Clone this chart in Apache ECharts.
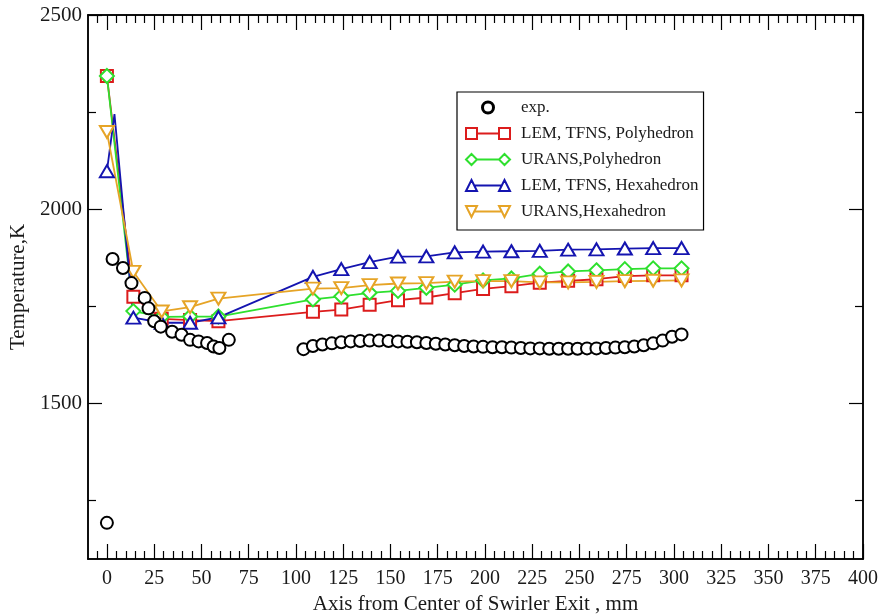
<!DOCTYPE html>
<html>
<head>
<meta charset="utf-8">
<script src="https://cdn.jsdelivr.net/npm/echarts@6/dist/echarts.min.js"></script>
<style>html,body{margin:0;padding:0;background:#fff;}#c{width:883px;height:614px;}</style>
</head>
<body>
<div id="c"></div>
<script>
// ---- tick labels ----
const xTicks = [0,25,50,75,100,125,150,175,200,225,250,275,300,325,350,375,400];
const yTicks = [1500,2000,2500];
const yMinorTicks = [1250,1750,2250];
const xMinorTicks = [];
for (let v = -5; v <= 400; v += 5) { if (v % 25 !== 0) xMinorTicks.push(v); }

// ---- experimental data ----
const expX = [0,3,8.5,13,20,22,25,28.5,34.5,39.5,44,48.5,53,56.5,59.5,64.5,
  104,109,114,119,124,129,134,139,144,149,154,159,164,169,174,179,184,189,194,199,204,209,214,219,224,229,234,239,244,249,254,259,264,269,274,279,284,289,294,299,304];
const expT = [1193,1872,1849,1810,1772,1745,1712,1698,1685,1677,1664,1660,1656,1647,1643,1664,
  1640,1648,1652,1655,1658,1660,1661,1662,1662,1661,1660,1659,1658,1656,1654,1652,1650,1648,1647,1646,1645,1645,1644,1643,1642,1642,1641,1641,1641,1641,1642,1642,1643,1644,1645,1647,1650,1655,1662,1672,1678];

// ---- simulation data ----
const simX = [0,14,29,44,59,109,124,139,154,169,184,199,214,229,244,259,274,289,304];
const lemPoly   = [2343,1775,1718,1715,1712,1736,1742,1754,1766,1773,1784,1795,1802,1811,1816,1820,1828,1830,1830];
const uransPoly = [2343,1738,1723,1724,1724,1768,1776,1785,1790,1798,1806,1817,1822,1834,1840,1843,1846,1848,1848];
const lemHex    = [2098,1721,1708,1708,1722,1826,1846,1864,1878,1879,1889,1891,1892,1893,1896,1897,1899,1900,1900];
const lemHexSpike = [4, 2245]; // unmarked point on the blue curve
const uransHex  = [2199,1839,1737,1748,1770,1796,1797,1805,1809,1810,1814,1815,1815,1812,1812,1813,1815,1816,1817];

const names = ['exp.','LEM, TFNS, Polyhedron','URANS,Polyhedron','LEM, TFNS, Hexahedron','URANS,Hexahedron'];
const colors = ['#000000','#dc1c1c','#2ee02e','#1414b0','#e6a426'];

const pairs = (xs, ys) => xs.map((x, i) => [x, ys[i]]);
const blueData = pairs(simX, lemHex);
blueData.splice(1, 0, {value: lemHexSpike, symbol: 'none'});

const FONT = '"Liberation Serif", "DejaVu Serif", serif';
const TXT = '#1a1a1a';

function xAx(pos, values, len, labels, extra) {
  return Object.assign({
    type: 'value', min: -10, max: 400, position: pos,
    axisLine: {show: true, onZero: false, lineStyle: {color: '#000', width: 1.5}},
    axisTick: {show: true, inside: true, length: len, customValues: values, lineStyle: {color: '#000', width: 1.2}},
    axisLabel: labels ? {show: true, customValues: xTicks, margin: 10, fontFamily: FONT, fontSize: 20, color: TXT,
      formatter: v => String(v)} : {show: false},
    splitLine: {show: false}
  }, extra || {});
}
function yAx(pos, values, len, labels, extra) {
  return Object.assign({
    type: 'value', min: 1100, max: 2500, position: pos,
    axisLine: {show: true, onZero: false, lineStyle: {color: '#000', width: 1.5}},
    axisTick: {show: true, inside: true, length: len, customValues: values, lineStyle: {color: '#000', width: 1.2}},
    axisLabel: labels ? {show: true, customValues: yTicks, margin: 6, fontFamily: FONT, fontSize: 21, color: TXT,
      formatter: v => String(v)} : {show: false},
    splitLine: {show: false}
  }, extra || {});
}

const icons = [
  'circle',
  'path://M0,0H10V10H0ZM30,0H40V10H30ZM10,5H30',
  'path://M5,0L10,5L5,10L0,5ZM35,0L40,5L35,10L30,5ZM10,5H30',
  'path://M5,0L10,10L0,10ZM35,0L40,10L30,10ZM7.5,5H32.5',
  'path://M0,0H10L5,10ZM30,0H40L35,10ZM7.5,5H32.5'
];

const chart = echarts.init(document.getElementById('c'), null, {renderer: 'canvas'});
chart.setOption({
  animation: false,
  backgroundColor: '#fff',
  grid: {left: 88, top: 15, right: 20, bottom: 55, containLabel: false, outerBoundsMode: 'none'},
  xAxis: [
    xAx('bottom', xTicks, 15, true, {name: 'Axis from Center of Swirler Exit , mm', nameLocation: 'middle', nameGap: 32,
      nameTextStyle: {fontFamily: FONT, fontSize: 21, color: TXT}}),
    xAx('bottom', xMinorTicks, 8, false),
    xAx('top', xTicks, 15, false),
    xAx('top', xMinorTicks, 8, false)
  ],
  yAxis: [
    yAx('left', yTicks, 14, true, {name: 'Temperature,K', nameLocation: 'middle', nameGap: 56,
      nameTextStyle: {fontFamily: FONT, fontSize: 21, color: TXT}}),
    yAx('left', yMinorTicks, 8, false),
    yAx('right', yTicks, 14, false),
    yAx('right', yMinorTicks, 8, false)
  ],
  legend: {
    left: 457, top: 92, orient: 'vertical', itemGap: 9, itemWidth: 44, itemHeight: 11,
    padding: [7, 5, 10, 8], borderColor: '#000', borderWidth: 1.2, backgroundColor: '#fff',
    selectedMode: false,
    textStyle: {fontFamily: FONT, fontSize: 17, color: TXT, padding: [0, 0, 0, 6]},
    data: names.map((n, i) => ({
      name: n, icon: icons[i],
      itemStyle: {color: '#fff', borderColor: colors[i], borderWidth: i === 0 ? 3 : 2},
      lineStyle: {width: 0}
    }))
  },
  series: [
    {name: names[0], type: 'line', data: pairs(expX, expT), symbol: 'emptyCircle', symbolSize: 12,
      lineStyle: {width: 0, opacity: 0}, itemStyle: {color: '#000', borderColor: '#000', borderWidth: 2.6}, z: 5},
    {name: names[1], type: 'line', data: pairs(simX, lemPoly), symbol: 'emptyRect', symbolSize: 12,
      lineStyle: {color: colors[1], width: 1.8}, itemStyle: {color: colors[1], borderColor: colors[1], borderWidth: 2}},
    {name: names[2], type: 'line', data: pairs(simX, uransPoly), symbol: 'emptyDiamond', symbolSize: 14,
      lineStyle: {color: colors[2], width: 1.8}, itemStyle: {color: colors[2], borderColor: colors[2], borderWidth: 2}},
    {name: names[3], type: 'line', data: blueData, symbol: 'emptyTriangle', symbolSize: [14, 12],
      lineStyle: {color: colors[3], width: 1.8}, itemStyle: {color: colors[3], borderColor: colors[3], borderWidth: 2}},
    {name: names[4], type: 'line', data: pairs(simX, uransHex), symbol: 'emptyTriangle', symbolRotate: 180, symbolSize: [14, 12],
      lineStyle: {color: colors[4], width: 1.8}, itemStyle: {color: colors[4], borderColor: colors[4], borderWidth: 2}}
  ]
});
</script>
</body>
</html>
